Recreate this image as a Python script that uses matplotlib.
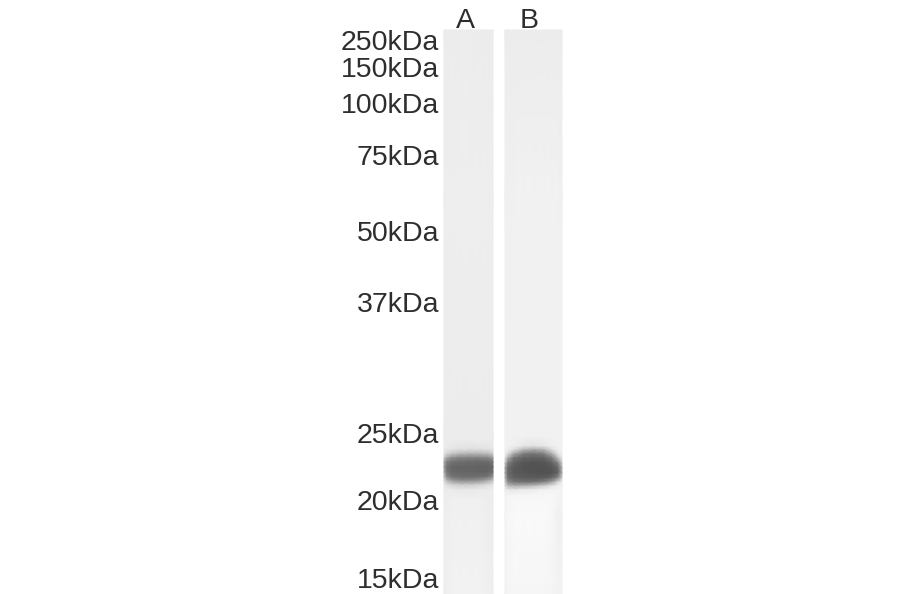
import matplotlib
matplotlib.use("Agg")
import matplotlib.pyplot as plt
import numpy as np

plt.rcParams['font.family'] = ['Liberation Sans', 'DejaVu Sans']

# size markers
marker_labels = ["250kDa", "150kDa", "100kDa", "75kDa", "50kDa", "37kDa", "25kDa", "20kDa", "15kDa"]
marker_rows = [40, 67, 103, 155, 231, 302, 433, 500, 578]

lane_names = ["A", "B"]
lane_name_cols = [465, 529]

# grey levels (rows = image y, columns = image x)
rows_a = [30, 200, 440, 449, 454, 458, 462, 467, 472, 477, 481, 485, 490, 500, 594]
cols_a = [444, 447, 452, 460, 470, 480, 488, 493]
grey_a = [
    [236, 236, 236, 237, 237, 236, 236, 236],
    [238, 238, 238, 238, 238, 238, 238, 237],
    [236, 236, 236, 236, 236, 236, 236, 236],
    [234, 233, 230, 226, 224, 226, 228, 232],
    [226, 212, 195, 182, 178, 180, 186, 205],
    [200, 165, 142, 132, 130, 130, 135, 155],
    [170, 128, 115, 110, 108, 106, 108, 120],
    [160, 114, 103, 100, 100,  98,  98, 106],
    [172, 118, 104, 102, 102, 100, 100, 112],
    [195, 140, 118, 110, 110, 112, 120, 148],
    [218, 186, 160, 146, 146, 154, 176, 198],
    [232, 224, 212, 204, 204, 212, 222, 228],
    [236, 236, 235, 233, 233, 235, 236, 236],
    [238, 238, 240, 240, 240, 240, 238, 237],
    [238, 240, 242, 242, 242, 242, 240, 238],
]

rows_b = [30, 200, 436, 446, 450, 454, 458, 463, 468, 473, 478, 482, 486, 490, 496, 514, 594]
cols_b = [505, 508, 514, 524, 534, 544, 552, 558, 562]
grey_b = [
    [236, 236, 236, 236, 236, 236, 236, 236, 236],
    [240, 240, 241, 241, 241, 241, 241, 241, 240],
    [241, 241, 241, 241, 241, 241, 241, 241, 241],
    [241, 241, 239, 231, 226, 231, 239, 241, 241],
    [240, 238, 220, 178, 165, 178, 220, 240, 241],
    [238, 220, 165, 122, 116, 128, 176, 228, 240],
    [228, 172, 118, 100,  97, 100, 126, 190, 235],
    [198, 128,  98,  86,  84,  86,  98, 132, 208],
    [172, 110,  90,  84,  82,  82,  86, 104, 182],
    [168, 108,  90,  86,  84,  82,  84, 100, 178],
    [186, 114,  98,  94,  92,  94, 106, 140, 208],
    [204, 140, 118, 112, 116, 130, 162, 212, 236],
    [220, 186, 176, 180, 190, 208, 228, 240, 242],
    [238, 234, 231, 235, 238, 242, 244, 244, 243],
    [243, 245, 247, 247, 247, 247, 247, 245, 243],
    [243, 247, 249, 249, 249, 249, 247, 240, 240],
    [242, 245, 247, 246, 246, 246, 245, 243, 242],
]

fig = plt.figure(figsize=(9, 5.94), dpi=100)
ax = fig.add_axes([0, 0, 1, 1])

ax.pcolormesh(cols_a, rows_a, np.array(grey_a), shading="gouraud", cmap="gray", vmin=0, vmax=255)
ax.pcolormesh(cols_b, rows_b, np.array(grey_b), shading="gouraud", cmap="gray", vmin=0, vmax=255)

for lab, r in zip(marker_labels, marker_rows):
    ax.text(439, r, lab, ha="right", va="center_baseline", fontsize=20.5, color="#2e2e2e")
for lab, c in zip(lane_names, lane_name_cols):
    ax.text(c, 17.5, lab, ha="center", va="center_baseline", fontsize=20.5, color="#2e2e2e")

ax.set_xlim(0, 900)
ax.set_ylim(594, 0)
ax.axis("off")

fig.savefig("out.png", dpi=100)
